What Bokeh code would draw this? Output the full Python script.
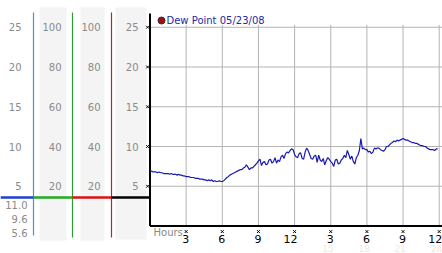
from bokeh.plotting import figure
from bokeh.models import Range1d
from bokeh.embed import file_html
from bokeh.resources import INLINE
from bokeh.core.properties import value

# ---- data (one reading every 7.5 minutes) ----
step_hours = 0.125
dew_point = [
    6.9, 6.9, 6.8, 6.8, 6.8, 6.7, 6.8, 6.7,
    6.7, 6.6, 6.6, 6.6, 6.6, 6.5, 6.6, 6.5,
    6.5, 6.5, 6.4, 6.5, 6.4, 6.4, 6.3, 6.3,
    6.2, 6.2, 6.2, 6.1, 6.1, 6.1, 6.0, 6.0,
    6.0, 5.9, 5.9, 5.9, 5.8, 5.8, 5.7, 5.8,
    5.7, 5.8, 5.6, 5.7, 5.6, 5.6, 5.7, 5.6,
    5.6, 5.7, 5.9, 6.1, 6.2, 6.4, 6.5, 6.6,
    6.7, 6.8, 6.9, 7.0, 7.1, 7.1, 7.3, 7.4,
    7.7, 7.4, 7.1, 7.3, 7.3, 7.5, 7.7, 7.9,
    8.2, 8.4, 7.6, 8.0, 8.1, 7.7, 7.8, 8.3,
    8.4, 7.9, 8.1, 8.6, 7.9, 8.3, 8.1, 8.7,
    8.9, 8.5, 9.1, 9.3, 9.2, 9.5, 9.7, 9.6,
    9.0, 8.7, 8.6, 9.1, 9.2, 8.5, 8.4, 9.3,
    9.8, 9.5, 9.0, 8.5, 8.4, 8.8, 8.9, 8.0,
    8.9, 8.3, 8.1, 8.5, 7.7, 8.2, 8.6, 8.4,
    8.1, 7.9, 7.5, 8.3, 8.4, 7.8, 7.9, 8.3,
    8.5, 8.9, 8.6, 9.5, 9.0, 8.4, 8.8, 8.1,
    7.8, 8.6, 8.9, 9.5, 11.0, 9.7, 9.8, 9.6,
    9.6, 9.3, 9.4, 9.1, 9.3, 9.8, 9.7, 9.8,
    9.8, 9.6, 9.5, 9.4, 9.6, 10.0, 10.0, 10.2,
    10.4, 10.5, 10.7, 10.6, 10.8, 10.7, 10.8, 10.9,
    11.0, 10.9, 10.8, 10.8, 10.7, 10.6, 10.5, 10.5,
    10.4, 10.4, 10.3, 10.2, 10.1, 10.1, 10.0, 10.0,
    9.8, 9.7, 9.6, 9.6, 9.6, 9.5, 9.7, 9.7,
]
hours = [i * step_hours for i in range(len(dew_point))]

y_ticks = [25, 20, 15, 10, 5]
y_tick_labels = ["25", "20", "15", "10", "5"]
pct_tick_labels = ["100", "80", "60", "40", "20"]
x_ticks = [3, 6, 9, 12, 15, 18, 21, 24]
x_tick_labels = ["3", "6", "9", "12", "3", "6", "9", "12"]
x_tick2 = [15, 18, 21, 24]
x_tick2_labels = ["15", "18", "21", "24"]
stat_labels = ["11.0", "9.6", "5.6"]
legend_label = "Dew Point 05/23/08"
current_level = 3.6

# ---- layout (pixel geometry of the canvas) ----
W, H = 442, 253
X0, PXH = 149.5, 12.05      # pixel x of hour 0, pixels per hour
Y0, PXV = 225.5, 7.95       # pixel y of value 0, pixels per unit
LBL_SHIFT = 3 / PXH         # tick labels are right-aligned 3px right of tick

p = figure(width=W, height=H, output_backend="svg", toolbar_location=None,
           x_axis_location=None, y_axis_location=None, min_border=0,
           x_range=Range1d(-X0 / PXH, (W - X0) / PXH),
           y_range=Range1d(-(H - Y0) / PXV, Y0 / PXV))
p.extra_x_ranges = {"px": Range1d(0, W)}
p.extra_y_ranges = {"py": Range1d(H, 0)}
p.outline_line_color = None
p.xgrid.visible = False
p.ygrid.visible = False
p.background_fill_color = "white"
p.border_fill_color = "white"

FONT = value("DejaVu Sans")
GRAY = "#8a8a8a"

# left panel shaded columns
p.quad(left=[39, 80, 115], right=[66, 104, 146], top=[7, 7, 7], bottom=[240, 240, 239],
       x_range_name="px", y_range_name="py", fill_color="#f4f4f4", line_color=None)

# coloured vertical lines
p.segment(x0=[33, 72, 111], x1=[33, 72, 111], y0=[12, 12, 12], y1=[235, 237, 237],
          x_range_name="px", y_range_name="py",
          line_color=["#3a9ad0", "#2e9a3a", "#b02a2a"], line_width=1.2)

# coloured current-level line
p.segment(x0=[0, 33, 72, 111], x1=[33, 72, 111, 149],
          y0=[current_level] * 4, y1=[current_level] * 4, x_range_name="px",
          line_color=["#1f3fd0", "#22aa22", "#dd1111", "#000000"], line_width=2.5)

# left panel tick labels
for xp, labels in ((21, y_tick_labels), (61, pct_tick_labels),
                   (100, pct_tick_labels), (138, y_tick_labels)):
    p.text(x=[xp] * 5, y=y_ticks, text=labels, x_range_name="px",
           text_align="right", text_baseline="middle", text_font=FONT,
           text_font_size="10px", text_color=GRAY)
p.text(x=[27] * 3, y=[204, 218, 232], text=stat_labels, x_range_name="px", y_range_name="py",
       text_align="right", text_baseline="middle", text_font=FONT,
       text_font_size="10px", text_color=GRAY)

# grid
p.segment(x0=[0] * 5, x1=[(W - X0) / PXH] * 5, y0=y_ticks, y1=y_ticks,
          line_color="#b4b4b4", line_width=1)
p.segment(x0=x_ticks, x1=x_ticks, y0=[25.3] * 8, y1=[0] * 8,
          line_color="#b4b4b4", line_width=1)

# axes
p.segment(x0=[0, 0], x1=[0, (W - X0) / PXH], y0=[0, 0], y1=[(Y0 - 13) / PXV, 0],
          line_color="black", line_width=2)
p.scatter(x=[-0.2] * 5, y=y_ticks, marker="x", size=4, line_color="black", line_width=1)
p.scatter(x=x_ticks, y=[-0.7] * 8, marker="x", size=4, line_color="black", line_width=1)
p.text(x=[t + LBL_SHIFT for t in x_ticks], y=[-1.65] * 8, text=x_tick_labels,
       text_align="right", text_baseline="middle", text_font=FONT,
       text_font_size="11px", text_color="black")
p.text(x=[t + LBL_SHIFT for t in x_tick2], y=[-2.8] * 4, text=x_tick2_labels,
       text_align="right", text_baseline="middle", text_font=FONT,
       text_font_size="9px", text_color="#ecebd8")
p.text(x=[153], y=[232], text=["Hours"], x_range_name="px", y_range_name="py",
       text_align="left", text_baseline="middle", text_font=FONT,
       text_font_size="10px", text_color=GRAY)

# legend
p.scatter(x=[161], y=[20], x_range_name="px", y_range_name="py", marker="circle",
          size=7, fill_color="#a01010", line_color="#333333", line_width=1)
p.text(x=[166], y=[20], text=[legend_label], x_range_name="px", y_range_name="py",
       text_align="left", text_baseline="middle", text_font=FONT,
       text_font_size="10px", text_color="#1c2aa8")

# series
p.line(hours, dew_point, line_color="#1a1ab0", line_width=1.2)

open("out.html", "w").write(file_html(p, INLINE))
